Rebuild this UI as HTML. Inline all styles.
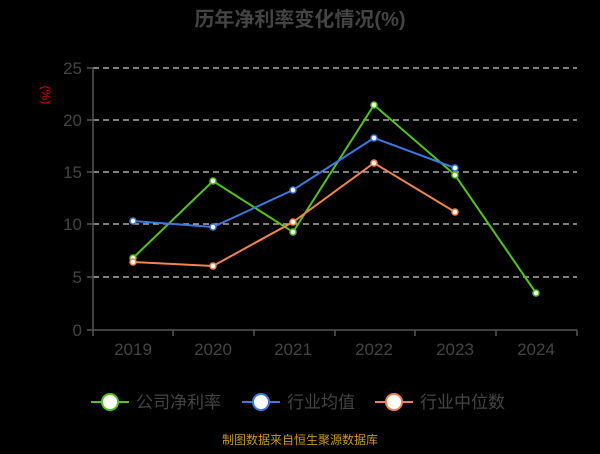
<!DOCTYPE html>
<html><head><meta charset="utf-8"><style>
body{margin:0;background:#000;width:600px;height:449px;overflow:hidden}
text{font-family:"Liberation Sans","Noto Sans CJK SC",sans-serif}
</style></head><body>
<svg width="600" height="449" xmlns="http://www.w3.org/2000/svg">
<rect width="600" height="449" fill="#000"/>
<text x="300" y="26" text-anchor="middle" font-size="20" font-weight="bold" fill="#444">历年净利率变化情况(%)</text>
<text x="0" y="0" transform="translate(42,95) rotate(90)" text-anchor="middle" font-size="12" fill="#d00">(%)</text>
<g stroke="#ccc" stroke-dasharray="6,4" stroke-width="1.2">
<line x1="93" x2="577" y1="68" y2="68"/><line x1="93" x2="577" y1="120" y2="120"/>
<line x1="93" x2="577" y1="172" y2="172"/><line x1="93" x2="577" y1="224" y2="224"/>
<line x1="93" x2="577" y1="277" y2="277"/>
</g>
<g stroke="#555" stroke-width="1.5">
<line x1="93" x2="93" y1="68" y2="330"/><line x1="93" x2="577" y1="330" y2="330"/>
<line x1="87" x2="93" y1="68" y2="68"/><line x1="87" x2="93" y1="120" y2="120"/><line x1="87" x2="93" y1="172" y2="172"/><line x1="87" x2="93" y1="224" y2="224"/><line x1="87" x2="93" y1="277" y2="277"/><line x1="87" x2="93" y1="330" y2="330"/>
<line x1="93" x2="93" y1="330" y2="336"/><line x1="173" x2="173" y1="330" y2="336"/><line x1="254" x2="254" y1="330" y2="336"/><line x1="335" x2="335" y1="330" y2="336"/><line x1="415" x2="415" y1="330" y2="336"/><line x1="496" x2="496" y1="330" y2="336"/><line x1="577" x2="577" y1="330" y2="336"/>
</g>
<g font-size="17" fill="#444" text-anchor="end">
<text x="82" y="74">25</text><text x="82" y="126">20</text><text x="82" y="178">15</text><text x="82" y="230">10</text><text x="82" y="283">5</text><text x="82" y="336">0</text>
</g>
<g font-size="17" fill="#444" text-anchor="middle">
<text x="133" y="355">2019</text><text x="213" y="355">2020</text><text x="293" y="355">2021</text><text x="374" y="355">2022</text><text x="455" y="355">2023</text><text x="536" y="355">2024</text>
</g>
<g fill="none" stroke-width="2">
<polyline stroke="#52c41a" points="133,258 213,181 293,232 374,105 455,175 536,293"/>
<polyline stroke="#3b78e0" points="133,221 213,227 293,190 374,138 455,168"/>
<polyline stroke="#f5844c" points="133,262 213,266 293,222 374,163 455,212"/>
</g>
<g fill="#fff" stroke-width="1.5">
<g stroke="#52c41a"><circle cx="133" cy="258" r="3"/><circle cx="213" cy="181" r="3"/><circle cx="293" cy="232" r="3"/><circle cx="374" cy="105" r="3"/><circle cx="455" cy="175" r="3"/><circle cx="536" cy="293" r="3"/></g>
<g stroke="#3b78e0"><circle cx="133" cy="221" r="3"/><circle cx="213" cy="227" r="3"/><circle cx="293" cy="190" r="3"/><circle cx="374" cy="138" r="3"/><circle cx="455" cy="168" r="3"/></g>
<g stroke="#f5844c"><circle cx="133" cy="262" r="3"/><circle cx="213" cy="266" r="3"/><circle cx="293" cy="222" r="3"/><circle cx="374" cy="163" r="3"/><circle cx="455" cy="212" r="3"/></g>
</g>
<g stroke-width="2">
<line x1="91" x2="129" y1="402" y2="402" stroke="#52c41a"/><circle cx="110" cy="402" r="8" fill="#fff" stroke="#52c41a"/>
<line x1="242" x2="280" y1="402" y2="402" stroke="#3b78e0"/><circle cx="261" cy="402" r="8" fill="#fff" stroke="#3b78e0"/>
<line x1="375" x2="413" y1="402" y2="402" stroke="#f5844c"/><circle cx="394" cy="402" r="8" fill="#fff" stroke="#f5844c"/>
</g>
<g font-size="17" fill="#444">
<text x="136" y="408">公司净利率</text><text x="287" y="408">行业均值</text><text x="420" y="408">行业中位数</text>
</g>
<text x="300" y="444" text-anchor="middle" font-size="12" fill="#c8961e">制图数据来自恒生聚源数据库</text>
</svg>
</body></html>
